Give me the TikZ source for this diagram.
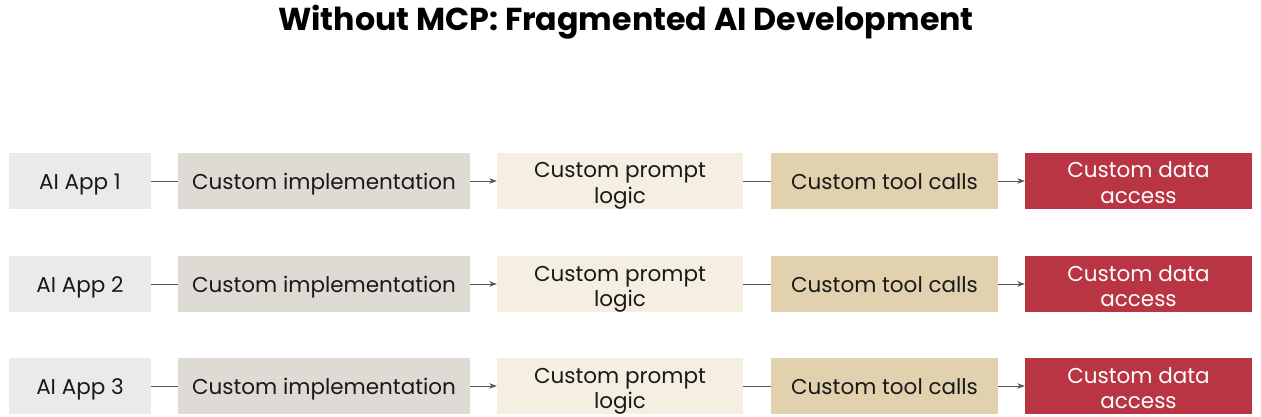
\documentclass[tikz,border=0pt]{standalone}
\usepackage{fontspec}
\setmainfont{Poppins}
\usetikzlibrary{arrows.meta}
\definecolor{appfill}{HTML}{EAEAEA}
\definecolor{implfill}{HTML}{DEDBD4}
\definecolor{promptfill}{HTML}{F4EFE0}
\definecolor{toolfill}{HTML}{E1D1AF}
\definecolor{datafill}{HTML}{B93544}
\definecolor{linkgray}{HTML}{555555}
\tikzset{
  stagebox/.style={minimum height=56pt, inner sep=0pt, align=center,
    font=\fontsize{21.5}{25}\selectfont, text=black!90,
    text height=17pt, text depth=0pt},
  twoline/.style={text height=44pt, text depth=0pt},
  appbox/.style={stagebox, fill=appfill, minimum width=142pt},
  implbox/.style={stagebox, fill=implfill, minimum width=292pt},
  promptbox/.style={stagebox, twoline, fill=promptfill, minimum width=246pt},
  toolbox/.style={stagebox, fill=toolfill, minimum width=227pt},
  databox/.style={stagebox, twoline, fill=datafill, minimum width=227pt, text=white},
  link/.style={draw=linkgray, line width=0.9pt},
  arrowlink/.style={link, -{Stealth[length=7.5pt, width=5.5pt]}},
}
\begin{document}
\begin{tikzpicture}[x=1pt, y=-1pt]
  \useasboundingbox (0,0) rectangle (1261,417);
  \node[font=\fontsize{31.7}{36}\selectfont\bfseries] (title) at (626,22)
    {Without MCP: Fragmented AI Development};
  \foreach \r/\yc in {1/181, 2/284, 3/386} {
    \node[appbox]    (app\r)    at (80,\yc)   {AI App \r};
    \node[implbox]   (impl\r)   at (324,\yc)  {Custom implementation};
    \node[promptbox] (prompt\r) at (620,\yc)  {Custom prompt\\logic};
    \node[toolbox]   (tool\r)   at (884.5,\yc){Custom tool calls};
    \node[databox]   (data\r)   at (1138.5,\yc){Custom data\\access};
    \draw[link]      (app\r)    -- (impl\r);
    \draw[arrowlink] (impl\r)   -- (prompt\r);
    \draw[link]      (prompt\r) -- (tool\r);
    \draw[arrowlink] (tool\r)   -- (data\r);
  }
\end{tikzpicture}
\end{document}
